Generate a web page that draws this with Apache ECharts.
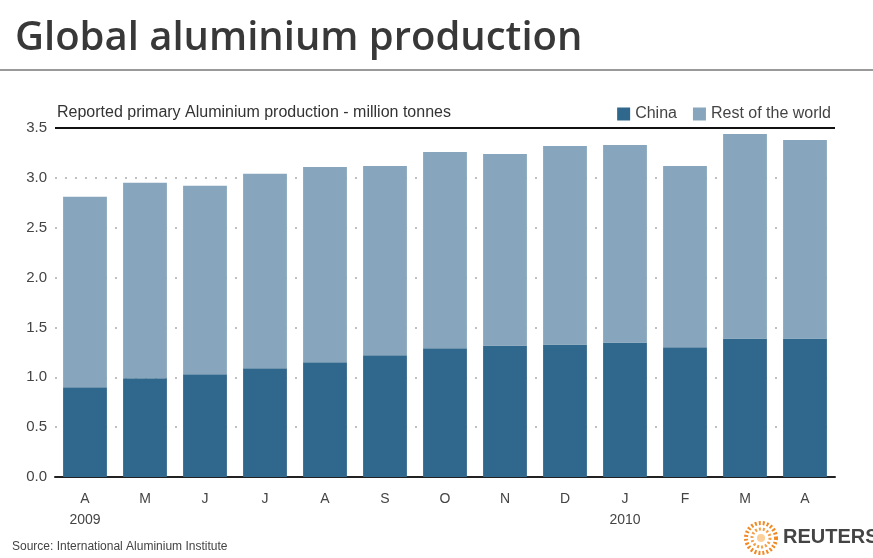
<!DOCTYPE html>
<html><head><meta charset="utf-8">
<script src="https://cdn.jsdelivr.net/npm/echarts@6/dist/echarts.min.js"></script>
<style>html,body{margin:0;padding:0;background:#fff}#c{width:873px;height:558px}</style>
</head><body><div id="c"></div>
<script>
const months = ['A','M','J','J','A','S','O','N','D','J','F','M','A'];
const years  = ['2009','','','','','','','','','2010','','',''];
const totals = [2.81,2.95,2.92,3.04,3.11,3.12,3.26,3.24,3.32,3.33,3.12,3.44,3.38];
const china  = [0.90,0.99,1.03,1.09,1.15,1.22,1.29,1.32,1.33,1.35,1.30,1.39,1.39];
const rest   = totals.map((t,i)=>+(t-china[i]).toFixed(2));
const yTicks = [0,0.5,1,1.5,2,2.5,3,3.5];

const chart = echarts.init(document.getElementById('c'));
const font = 'Arial, "Liberation Sans", sans-serif';
chart.setOption({
  animation:false,
  backgroundColor:'#fff',
  title:{
    text:'Global aluminium production',
    left:10, top:14,
    textStyle:{fontFamily:'"Open Sans", sans-serif', fontSize:40, fontWeight:600, color:'#383838'}
  },
  legend:{
    right:37, top:101, itemWidth:13, itemHeight:13, itemGap:16,
    icon:'rect',
    textStyle:{fontFamily:font, fontSize:16, color:'#444'},
    data:['China','Rest of the world']
  },
  grid:{left:55, right:38, top:128, bottom:81},
  xAxis:{
    type:'category', data:months,
    axisLine:{lineStyle:{color:'#222', width:2}},
    axisTick:{show:false},
    axisLabel:{
      fontFamily:font, fontSize:14, color:'#444', margin:12, lineHeight:21,
      formatter:(v,i)=> years[i] ? v+'\n'+years[i] : v
    }
  },
  yAxis:{
    type:'value', min:0, max:3.5, interval:0.5,
    axisLine:{show:false}, axisTick:{show:false},
    axisLabel:{fontFamily:font, fontSize:15, color:'#444', margin:8,
      formatter:v=>v.toFixed(1)},
    splitLine:{lineStyle:{color:'#aaa', type:[2,8], width:1.5}}
  },
  series:[
    {name:'China', type:'bar', stack:'a', data:china, barCategoryGap:'27%',
     itemStyle:{color:'#30678c'}},
    {name:'Rest of the world', type:'bar', stack:'a', data:rest,
     itemStyle:{color:'#87a6bd'},
     markLine:{silent:true, symbol:'none', label:{show:false},
       lineStyle:{color:'#111', type:'solid', width:2},
       data:[{yAxis:3.5}]}}
  ],
  graphic:[
    {type:'rect', shape:{x:0,y:69,width:873,height:2}, style:{fill:'#999'}},
    {type:'text', left:57, top:105, style:{text:'Reported primary Aluminium production - million tonnes',
      font:'16px '+font, fill:'#333'}},
    {type:'text', left:12, top:541, style:{text:'Source: International Aluminium Institute',
      font:'12px '+font, fill:'#444'}},
    {type:'circle', shape:{cx:761, cy:538, r:15}, style:{fill:'none', stroke:'#f08a24', lineWidth:4, lineDash:[2,2]}},
    {type:'circle', shape:{cx:761, cy:538, r:9}, style:{fill:'none', stroke:'#f5a048', lineWidth:3, lineDash:[2,2]}},
    {type:'circle', shape:{cx:761, cy:538, r:4}, style:{fill:'#fbd09a'}},
    {type:'text', left:783, top:527, style:{text:'REUTERS', font:'bold 20px '+font, fill:'#444'}}
  ]
});
</script></body></html>
